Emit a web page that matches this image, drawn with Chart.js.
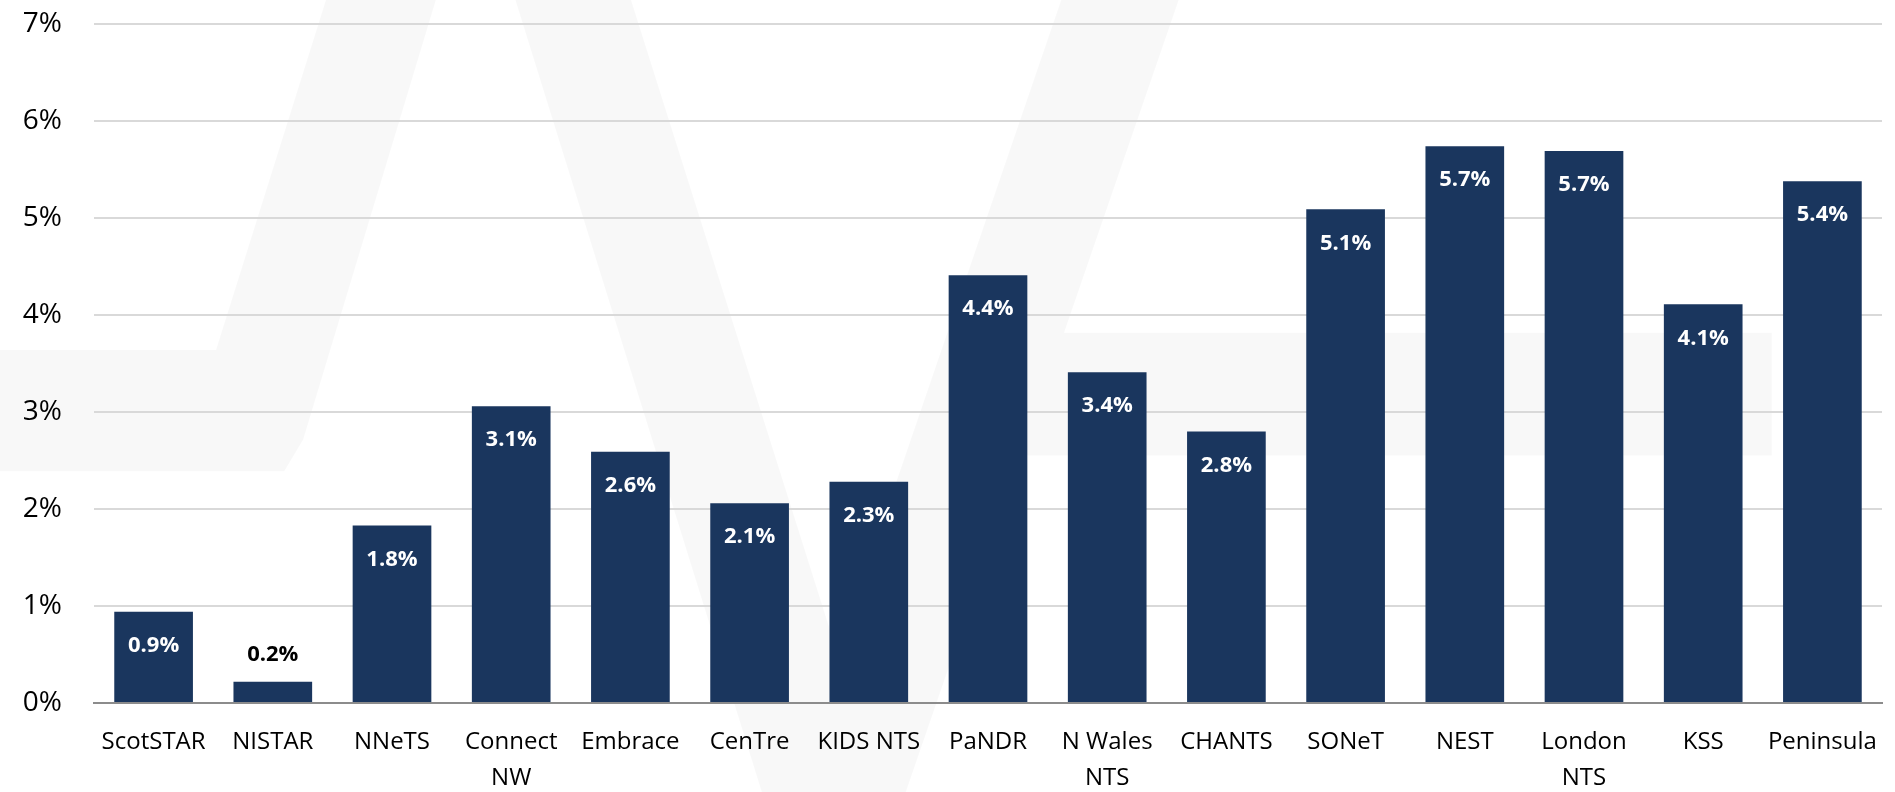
<!DOCTYPE html>
<html>
<head>
<meta charset="utf-8">
<script src="https://cdn.jsdelivr.net/npm/chart.js@4/dist/chart.umd.min.js"></script>
<style>
html,body{margin:0;padding:0;background:#ffffff;}
#c{display:block;}
</style>
</head>
<body>
<canvas id="c" width="1895" height="792"></canvas>
<script>
// ---- data ----
const categories = ["ScotSTAR", "NISTAR", "NNeTS", ["Connect", "NW"], "Embrace", "CenTre", "KIDS NTS", "PaNDR", ["N Wales", "NTS"], "CHANTS", "SONeT", "NEST", ["London", "NTS"], "KSS", "Peninsula"];
const values = [0.94, 0.22, 1.83, 3.06, 2.59, 2.06, 2.28, 4.41, 3.41, 2.80, 5.09, 5.74, 5.69, 4.11, 5.38];
const yTickValues = [0, 1, 2, 3, 4, 5, 6, 7];
const yTickLabels = ["0%", "1%", "2%", "3%", "4%", "5%", "6%", "7%"];

const FONT = '"Open Sans", "Liberation Sans", sans-serif';

// faint background logo watermark (decoration only, not data)
const watermark = {
  id: 'watermark',
  beforeDraw(chart) {
    const ctx = chart.ctx;
    const W = chart.width, H = chart.height;
    const shapes = [
      [[0.172, 0], [0.230, 0], [0.160, 0.555], [0.150, 0.595], [0, 0.595], [0, 0.442], [0.114, 0.442]],
      [[0.272, 0], [0.333, 0], [0.465, 1], [0.402, 1]],
      [[0.560, 0], [0.622, 0], [0.478, 1], [0.417, 1]],
      [[0.540, 0.420], [0.935, 0.420], [0.935, 0.575], [0.520, 0.575]]
    ];
    ctx.save();
    ctx.fillStyle = 'rgba(0,0,0,0.027)';
    ctx.beginPath();
    shapes.forEach(pts => {
      ctx.moveTo(pts[0][0] * W, pts[0][1] * H);
      for (let k = 1; k < pts.length; k++) ctx.lineTo(pts[k][0] * W, pts[k][1] * H);
      ctx.closePath();
    });
    ctx.fill('nonzero');
    ctx.restore();
  }
};

const barLabels = {
  id: 'barLabels',
  afterDatasetsDraw(chart) {
    const ctx = chart.ctx;
    const meta = chart.getDatasetMeta(0);
    ctx.save();
    ctx.font = 'bold 22px ' + FONT;
    ctx.textAlign = 'center';
    ctx.textBaseline = 'middle';
    meta.data.forEach((bar, i) => {
      const txt = values[i].toFixed(1) + '%';
      const h = bar.base - bar.y;
      if (h > 60) {
        ctx.fillStyle = '#ffffff';
        ctx.fillText(txt, bar.x, bar.y + 34);
      } else {
        ctx.fillStyle = '#000000';
        ctx.fillText(txt, bar.x, bar.y - 27);
      }
    });
    ctx.restore();
  }
};

new Chart(document.getElementById('c'), {
  type: 'bar',
  data: {
    labels: categories,
    datasets: [{
      data: values,
      backgroundColor: '#1a365e',
      borderWidth: 0,
      barPercentage: 0.66,
      categoryPercentage: 1.0
    }]
  },
  options: {
    responsive: false,
    animation: false,
    devicePixelRatio: 1,
    layout: { padding: { top: 24, right: 13, left: 0, bottom: 0 } },
    plugins: {
      legend: { display: false },
      tooltip: { enabled: false }
    },
    scales: {
      x: {
        grid: { display: false, drawTicks: false },
        border: { display: true, color: '#8c8c8c', width: 2 },
        ticks: {
          autoSkip: false,
          maxRotation: 0,
          minRotation: 0,
          padding: 21,
          color: '#000000',
          font: { family: FONT, size: 24, lineHeight: 1.5 }
        },
        afterFit(scale) {
          scale.height = 89;
          scale.paddingLeft = 0;
          scale.paddingRight = 0;
        }
      },
      y: {
        min: 0,
        max: 7,
        afterBuildTicks(scale) { scale.ticks = yTickValues.map(v => ({ value: v })); },
        grid: {
          drawTicks: false,
          lineWidth: 2,
          color: (c) => (c.tick && c.tick.value === 0) ? 'rgba(0,0,0,0)' : '#d9d9d9'
        },
        border: { display: false },
        ticks: {
          padding: 32,
          color: '#000000',
          font: { family: FONT, size: 28 },
          callback: (v) => yTickLabels[yTickValues.indexOf(v)]
        },
        afterFit(scale) {
          scale.width = 94;
          scale.paddingTop = 0;
          scale.paddingBottom = 0;
        }
      }
    }
  },
  plugins: [watermark, barLabels]
});
</script>
</body>
</html>
